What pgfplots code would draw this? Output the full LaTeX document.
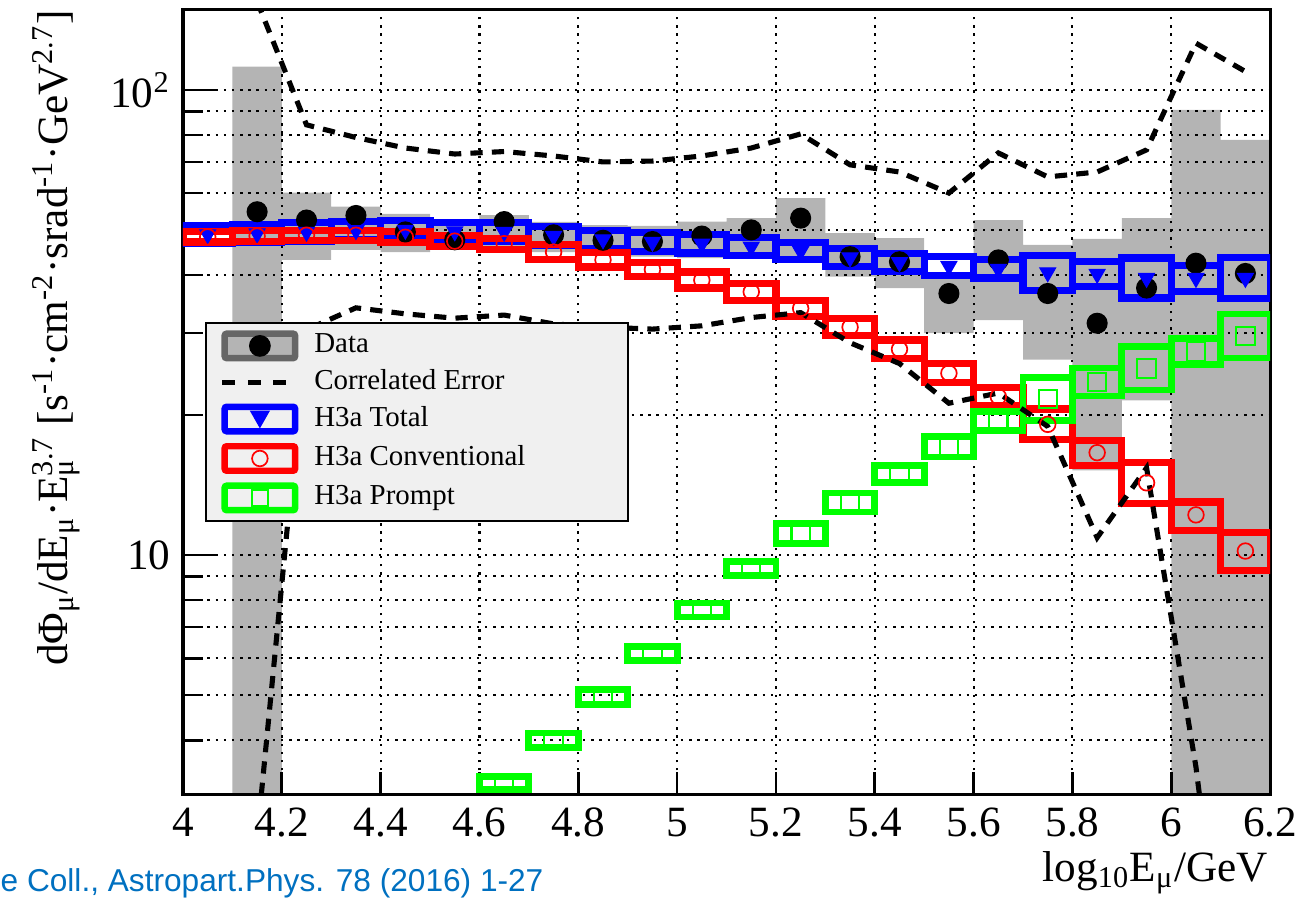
\documentclass[border=0pt]{standalone}
\usepackage{fontspec}
\setmainfont{Liberation Serif}
\newfontfamily\arialfont{Liberation Sans}
\usepackage{pgfplots}
\pgfplotsset{compat=1.18}
\definecolor{citeblue}{RGB}{0,112,192}
\definecolor{legfill}{RGB}{240,240,240}
\definecolor{sysgray}{RGB}{180,180,180}
\newcommand{\tfont}{\fontsize{12.7}{15}\selectfont}
\begin{document}
\begin{tikzpicture}
\begin{axis}[
  name=ax, set layers,
  scale only axis, width=319.6pt, height=230.8pt,
  xmin=4, xmax=6.2, ymode=log, ymin=3.05, ymax=148.6,
  unbounded coords=jump,
  tick pos=left, tick align=inside,
  axis line style={line width=0.9pt},
  every tick/.style={black, line width=0.8pt},
  /pgf/number format/assume math mode=true,
  xtick=\empty,
  minor xtick={4.05,4.1,4.15,4.25,4.3,4.35,4.45,4.5,4.55,4.65,4.7,4.75,4.85,4.9,4.95,5.05,5.1,5.15,5.25,5.3,5.35,5.45,5.5,5.55,5.65,5.7,5.75,5.85,5.9,5.95,6.05,6.1,6.15},
  extra x ticks={4,4.2,4.4,4.6,4.8,5,5.2,5.4,5.6,5.8,6,6.2},
  extra x tick style={major tick length=6.9pt, grid=major},
  ytick={10,100}, yticklabels={10,10\textsuperscript{2}},
  major tick length=9.6pt, minor tick length=3.5pt,
  ymajorgrids,
  extra y ticks={4,5,6,7,8,9,20,30,40,50,60,70,80,90},
  extra y tick labels={},
  extra y tick style={major tick length=5.9pt, grid=major},
  major grid style={black, line width=0.6pt, dash pattern=on 0.7pt off 1.7pt},
  xticklabel style={font=\tfont, anchor=base, yshift=-12.3pt},
  yticklabel style={font=\tfont, inner sep=0pt, xshift=-3.5pt},
  xlabel={log\textsubscript{10}E\textsubscript{μ}/GeV},
  xlabel style={at={(axis description cs:1,0)}, anchor=base east, yshift=-25.5pt, xshift=-0.5pt, inner sep=0pt, font=\tfont},
  ylabel={dΦ\textsubscript{μ}/dE\textsubscript{μ}·E\rlap{\textsubscript{μ}}\textsuperscript{3.7} [s\textsuperscript{-1}·cm\textsuperscript{-2}·srad\textsuperscript{-1}·GeV\textsuperscript{2.7}]},
  ylabel style={at={(axis description cs:-0.1168,1.0)}, anchor=east, inner sep=0pt, font=\tfont},
  legend style={at={(0.0202,0.6025)}, anchor=north west, draw=black, line width=0.6pt, fill=legfill,
    inner xsep=4.1pt, inner ysep=2.2pt, column sep=4.7pt, row sep=2.5pt,
    font=\fontsize{8.5}{10}\selectfont, nodes={inner sep=0pt}},
  legend cell align=left,
]
% ---- legend entries ----
\addlegendimage{legend image code/.code={
  \draw[draw=black!60, fill=sysgray, line width=1.9pt, rounded corners=0.6pt] (0.95pt,-3.6pt) rectangle (21.65pt,3.6pt);
  \fill[black] (11.3pt,0pt) circle (2.9pt);}}
\addlegendentry{\makebox[88pt][l]{Data}}
\addlegendimage{legend image code/.code={
  \draw[black, line width=1.5pt, dash pattern=on 3.7pt off 3.8pt] (0.3pt,0pt) -- (19.5pt,0pt);}}
\addlegendentry{\makebox[88pt][l]{Correlated Error}}
\addlegendimage{legend image code/.code={
  \draw[blue, line width=1.9pt, rounded corners=0.6pt] (0.95pt,-3.6pt) rectangle (21.65pt,3.6pt);
  \fill[blue] (8.85pt,2.15pt) -- (13.75pt,2.15pt) -- (11.3pt,-2.15pt) -- cycle;}}
\addlegendentry{\makebox[88pt][l]{H3a Total}}
\addlegendimage{legend image code/.code={
  \draw[red, line width=1.9pt, rounded corners=0.6pt] (0.95pt,-3.6pt) rectangle (21.65pt,3.6pt);
  \draw[red, line width=0.5pt] (11.3pt,0pt) circle (2.3pt);}}
\addlegendentry{\makebox[88pt][l]{H3a Conventional}}
\addlegendimage{legend image code/.code={
  \draw[green, line width=1.9pt, rounded corners=0.6pt] (0.95pt,-3.6pt) rectangle (21.65pt,3.6pt);
  \draw[green, line width=0.6pt] (9.0pt,-2.3pt) rectangle (13.6pt,2.3pt);}}
\addlegendentry{\makebox[88pt][l]{H3a Prompt}}

% ---- data systematic boxes ----
\addplot[on layer=axis background, forget plot, draw=none, fill=sysgray] coordinates {
(4.1,3.05)(4.2,3.05)(4.2,112.2)(4.1,112.2)(4.1,nan)
(4.2,43.1)(4.3,43.1)(4.3,60.1)(4.2,60.1)(4.2,nan)
(4.3,45.3)(4.4,45.3)(4.4,56.1)(4.3,56.1)(4.3,nan)
(4.4,44.8)(4.5,44.8)(4.5,54.1)(4.4,54.1)(4.4,nan)
(4.5,45.7)(4.6,45.7)(4.6,52.1)(4.5,52.1)(4.5,nan)
(4.6,45.5)(4.7,45.5)(4.7,53.8)(4.6,53.8)(4.6,nan)
(4.7,44.8)(4.8,44.8)(4.8,52.0)(4.7,52.0)(4.7,nan)
(4.8,44.2)(4.9,44.2)(4.9,51.2)(4.8,51.2)(4.8,nan)
(4.9,43.8)(5,43.8)(5,51.0)(4.9,51.0)(4.9,nan)
(5,43.5)(5.1,43.5)(5.1,52.1)(5,52.1)(5,nan)
(5.1,43.5)(5.2,43.5)(5.2,53.0)(5.1,53.0)(5.1,nan)
(5.2,42.7)(5.3,42.7)(5.3,58.5)(5.2,58.5)(5.2,nan)
(5.3,39.7)(5.4,39.7)(5.4,49.2)(5.3,49.2)(5.3,nan)
(5.4,37.5)(5.5,37.5)(5.5,48.0)(5.4,48.0)(5.4,nan)
(5.5,30.0)(5.6,30.0)(5.6,40.4)(5.5,40.4)(5.5,nan)
(5.6,32.0)(5.7,32.0)(5.7,52.5)(5.6,52.5)(5.6,nan)
(5.7,26.3)(5.8,26.3)(5.8,46.4)(5.7,46.4)(5.7,nan)
(5.8,15.2)(5.9,15.2)(5.9,47.8)(5.8,47.8)(5.8,nan)
(5.9,21.5)(6,21.5)(6,53.0)(5.9,53.0)(5.9,nan)
(6,3.05)(6.1,3.05)(6.1,90.6)(6,90.6)(6,nan)
(6.1,3.05)(6.2,3.05)(6.2,78.1)(6.1,78.1)(6.1,nan)
};

% ---- data points ----
\addplot[forget plot, only marks, mark=*, mark size=2.9pt, black] coordinates {
(4.15,54.7)(4.25,52.5)(4.35,53.7)(4.45,49.5)(4.55,47.6)(4.65,52.1)(4.75,48.8)(4.85,47.5)(4.95,47.2)(5.05,48.5)(5.15,50.0)(5.25,53.0)(5.35,43.8)(5.45,42.7)(5.55,36.5)(5.65,43.1)(5.75,36.5)(5.85,31.5)(5.95,37.5)(6.05,42.4)(6.15,40.3)
};

% ---- H3a total boxes ----
\addplot[forget plot, draw=blue, line width=2.1pt, line join=miter, mark=none] coordinates {
(4,46.7)(4.1,46.7)(4.1,51.2)(4,51.2)(4,46.7)(4.1,46.7)(4.1,nan)
(4.1,47.0)(4.2,47.0)(4.2,51.4)(4.1,51.4)(4.1,47.0)(4.2,47.0)(4.2,nan)
(4.2,47.3)(4.3,47.3)(4.3,51.8)(4.2,51.8)(4.2,47.3)(4.3,47.3)(4.3,nan)
(4.3,47.7)(4.4,47.7)(4.4,52.2)(4.3,52.2)(4.3,47.7)(4.4,47.7)(4.4,nan)
(4.4,47.8)(4.5,47.8)(4.5,52.3)(4.4,52.3)(4.4,47.8)(4.5,47.8)(4.5,nan)
(4.5,47.4)(4.6,47.4)(4.6,51.9)(4.5,51.9)(4.5,47.4)(4.6,47.4)(4.6,nan)
(4.6,47.3)(4.7,47.3)(4.7,51.8)(4.6,51.8)(4.6,47.3)(4.7,47.3)(4.7,nan)
(4.7,46.4)(4.8,46.4)(4.8,50.8)(4.7,50.8)(4.7,46.4)(4.8,46.4)(4.8,nan)
(4.8,45.6)(4.9,45.6)(4.9,49.9)(4.8,49.9)(4.8,45.6)(4.9,45.6)(4.9,nan)
(4.9,45.0)(5,45.0)(5,49.3)(4.9,49.3)(4.9,45.0)(5,45.0)(5,nan)
(5,44.6)(5.1,44.6)(5.1,48.8)(5,48.8)(5,44.6)(5.1,44.6)(5.1,nan)
(5.1,44.0)(5.2,44.0)(5.2,48.2)(5.1,48.2)(5.1,44.0)(5.2,44.0)(5.2,nan)
(5.2,43.1)(5.3,43.1)(5.3,46.9)(5.2,46.9)(5.2,43.1)(5.3,43.1)(5.3,nan)
(5.3,41.7)(5.4,41.7)(5.4,45.6)(5.3,45.6)(5.3,41.7)(5.4,41.7)(5.4,nan)
(5.4,40.7)(5.5,40.7)(5.5,44.5)(5.4,44.5)(5.4,40.7)(5.5,40.7)(5.5,nan)
(5.5,39.9)(5.6,39.9)(5.6,43.8)(5.5,43.8)(5.5,39.9)(5.6,39.9)(5.6,nan)
(5.6,39.4)(5.7,39.4)(5.7,43.1)(5.6,43.1)(5.6,39.4)(5.7,39.4)(5.7,nan)
(5.7,37.1)(5.8,37.1)(5.8,44.1)(5.7,44.1)(5.7,37.1)(5.8,37.1)(5.8,nan)
(5.8,37.8)(5.9,37.8)(5.9,42.8)(5.8,42.8)(5.8,37.8)(5.9,37.8)(5.9,nan)
(5.9,35.7)(6,35.7)(6,43.5)(5.9,43.5)(5.9,35.7)(6,35.7)(6,nan)
(6,36.9)(6.1,36.9)(6.1,42.0)(6,42.0)(6,36.9)(6.1,36.9)(6.1,nan)
(6.1,35.6)(6.2,35.6)(6.2,43.6)(6.1,43.6)(6.1,35.6)(6.2,35.6)
};
\addplot[forget plot, only marks, mark=triangle*, mark size=2.7pt, mark options={rotate=180, fill=blue, draw=blue, line width=0.3pt}] coordinates {
(4.05,48.9)(4.15,49.1)(4.25,49.5)(4.35,49.9)(4.45,50.0)(4.55,49.6)(4.65,49.5)(4.75,48.5)(4.85,47.7)(4.95,47.1)(5.05,46.7)(5.15,46.0)(5.25,45.0)(5.35,43.6)(5.45,42.6)(5.55,41.8)(5.65,41.2)(5.75,40.5)(5.85,40.2)(5.95,39.4)(6.05,39.4)(6.15,39.4)
};

% ---- H3a conventional boxes ----
\addplot[forget plot, draw=red, line width=2.1pt, line join=miter, mark=none] coordinates {
(4,47.1)(4.1,47.1)(4.1,49.5)(4,49.5)(4,47.1)(4.1,47.1)(4.1,nan)
(4.1,47.3)(4.2,47.3)(4.2,49.8)(4.1,49.8)(4.1,47.3)(4.2,47.3)(4.2,nan)
(4.2,47.5)(4.3,47.5)(4.3,49.9)(4.2,49.9)(4.2,47.5)(4.3,47.5)(4.3,nan)
(4.3,47.5)(4.4,47.5)(4.4,49.9)(4.3,49.9)(4.3,47.5)(4.4,47.5)(4.4,nan)
(4.4,46.9)(4.5,46.9)(4.5,49.5)(4.4,49.5)(4.4,46.9)(4.5,46.9)(4.5,nan)
(4.5,46.1)(4.6,46.1)(4.6,48.7)(4.5,48.7)(4.5,46.1)(4.6,46.1)(4.6,nan)
(4.6,45.4)(4.7,45.4)(4.7,47.9)(4.6,47.9)(4.6,45.4)(4.7,45.4)(4.7,nan)
(4.7,43.2)(4.8,43.2)(4.8,46.5)(4.7,46.5)(4.7,43.2)(4.8,43.2)(4.8,nan)
(4.8,41.6)(4.9,41.6)(4.9,44.7)(4.8,44.7)(4.8,41.6)(4.9,41.6)(4.9,nan)
(4.9,39.7)(5,39.7)(5,42.6)(4.9,42.6)(4.9,39.7)(5,39.7)(5,nan)
(5,37.5)(5.1,37.5)(5.1,40.6)(5,40.6)(5,37.5)(5.1,37.5)(5.1,nan)
(5.1,35.3)(5.2,35.3)(5.2,38.3)(5.1,38.3)(5.1,35.3)(5.2,35.3)(5.2,nan)
(5.2,32.6)(5.3,32.6)(5.3,35.3)(5.2,35.3)(5.2,32.6)(5.3,32.6)(5.3,nan)
(5.3,29.6)(5.4,29.6)(5.4,32.3)(5.3,32.3)(5.3,29.6)(5.4,29.6)(5.4,nan)
(5.4,26.5)(5.5,26.5)(5.5,29.0)(5.4,29.0)(5.4,26.5)(5.5,26.5)(5.5,nan)
(5.5,23.5)(5.6,23.5)(5.6,25.8)(5.5,25.8)(5.5,23.5)(5.6,23.5)(5.6,nan)
(5.6,21.0)(5.7,21.0)(5.7,22.9)(5.6,22.9)(5.6,21.0)(5.7,21.0)(5.7,nan)
(5.7,17.7)(5.8,17.7)(5.8,20.6)(5.7,20.6)(5.7,17.7)(5.8,17.7)(5.8,nan)
(5.8,15.6)(5.9,15.6)(5.9,17.6)(5.8,17.6)(5.8,15.6)(5.9,15.6)(5.9,nan)
(5.9,12.9)(6,12.9)(6,15.8)(5.9,15.8)(5.9,12.9)(6,12.9)(6,nan)
(6,11.3)(6.1,11.3)(6.1,13.0)(6,13.0)(6,11.3)(6.1,11.3)(6.1,nan)
(6.1,9.27)(6.2,9.27)(6.2,11.2)(6.1,11.2)(6.1,9.27)(6.2,9.27)
};
\addplot[forget plot, only marks, mark=o, mark size=2.3pt, mark options={draw=red, line width=0.5pt}] coordinates {
(4.05,48.3)(4.15,48.5)(4.25,48.7)(4.35,48.7)(4.45,48.2)(4.55,47.3)(4.65,46.7)(4.75,44.8)(4.85,43.1)(4.95,41.1)(5.05,39.0)(5.15,36.8)(5.25,33.9)(5.35,30.9)(5.45,27.7)(5.55,24.6)(5.65,21.9)(5.75,19.1)(5.85,16.6)(5.95,14.3)(6.05,12.2)(6.15,10.2)
};

% ---- H3a prompt boxes ----
\addplot[forget plot, draw=green, line width=2.0pt, line join=miter, mark=none] coordinates {
(4.6,3.128)(4.7,3.128)(4.7,3.342)(4.6,3.342)(4.6,3.128)(4.7,3.128)(4.7,nan)
(4.7,3.865)(4.8,3.865)(4.8,4.142)(4.7,4.142)(4.7,3.865)(4.8,3.865)(4.8,nan)
(4.8,4.775)(4.9,4.775)(4.9,5.133)(4.8,5.133)(4.8,4.775)(4.9,4.775)(4.9,nan)
(4.9,5.936)(5,5.936)(5,6.363)(4.9,6.363)(4.9,5.936)(5,5.936)(5,nan)
(5,7.356)(5.1,7.356)(5.1,7.884)(5,7.884)(5,7.356)(5.1,7.356)(5.1,nan)
(5.1,9.044)(5.2,9.044)(5.2,9.693)(5.1,9.693)(5.1,9.044)(5.2,9.044)(5.2,nan)
(5.2,10.58)(5.3,10.58)(5.3,11.68)(5.2,11.68)(5.2,10.58)(5.3,10.58)(5.3,nan)
(5.3,12.37)(5.4,12.37)(5.4,13.59)(5.3,13.59)(5.3,12.37)(5.4,12.37)(5.4,nan)
(5.4,14.30)(5.5,14.30)(5.5,15.60)(5.4,15.60)(5.4,14.30)(5.5,14.30)(5.5,nan)
(5.5,16.25)(5.6,16.25)(5.6,17.99)(5.5,17.99)(5.5,16.25)(5.6,16.25)(5.6,nan)
(5.6,18.54)(5.7,18.54)(5.7,20.38)(5.6,20.38)(5.6,18.54)(5.7,18.54)(5.7,nan)
(5.7,19.47)(5.8,19.47)(5.8,24.08)(5.7,24.08)(5.7,19.47)(5.8,19.47)(5.8,nan)
(5.8,21.98)(5.9,21.98)(5.9,25.25)(5.8,25.25)(5.8,21.98)(5.9,21.98)(5.9,nan)
(5.9,22.64)(6,22.64)(6,28.02)(5.9,28.02)(5.9,22.64)(6,22.64)(6,nan)
(6,25.66)(6.1,25.66)(6.1,29.19)(6,29.19)(6,25.66)(6.1,25.66)(6.1,nan)
(6.1,26.53)(6.2,26.53)(6.2,32.99)(6.1,32.99)(6.1,26.53)(6.2,26.53)
};
\addplot[forget plot, only marks, mark=square, mark size=2.7pt, mark options={draw=green, line width=0.6pt}] coordinates {
(4.65,3.233)(4.75,4.001)(4.85,4.951)(4.95,6.146)(5.05,7.615)(5.15,9.363)(5.25,11.11)(5.35,12.97)(5.45,14.94)(5.55,17.10)(5.65,19.44)(5.75,21.65)(5.85,23.55)(5.95,25.18)(6.05,27.37)(6.15,29.58)
};

% ---- correlated error band ----
\addplot[forget plot, black, line width=1.5pt, dash pattern=on 3.6pt off 2.7pt, mark=none] coordinates {
(4.15,155)(4.25,84.1)(4.35,79.0)(4.45,75.0)(4.55,72.8)(4.65,73.7)(4.75,72.1)(4.85,70.0)(4.95,70.3)(5.05,72.1)(5.15,75.0)(5.25,80.4)(5.35,69.0)(5.45,66.6)(5.55,60.0)(5.65,73.2)(5.75,65.0)(5.85,66.6)(5.95,74.3)(6.05,126.0)(6.15,109.5)
};
\addplot[forget plot, black, line width=1.5pt, dash pattern=on 3.6pt off 2.7pt, mark=none] coordinates {
(4.15,2.47)(4.25,30.5)(4.35,34.0)(4.45,33.0)(4.55,32.3)(4.65,32.8)(4.75,31.4)(4.85,30.9)(4.95,30.6)(5.05,31.1)(5.15,32.4)(5.25,33.2)(5.35,28.6)(5.45,25.8)(5.55,21.2)(5.65,22.3)(5.75,18.9)(5.85,10.9)(5.95,15.4)(6.05,3.5)(6.15,0.5)
};
\end{axis}
\node[anchor=base west, inner sep=0pt, text=citeblue, font=\arialfont\fontsize{9.3}{11}\selectfont]
  at ([shift={(-53.8pt,-28.5pt)}]ax.south west) {e Coll., Astropart.Phys. 78 (2016) 1-27};
\pgfresetboundingbox
\path ([shift={(-53.8pt,-32.3pt)}]ax.south west) rectangle ([shift={(8.5pt,2.9pt)}]ax.north east);
\end{tikzpicture}
\end{document}
